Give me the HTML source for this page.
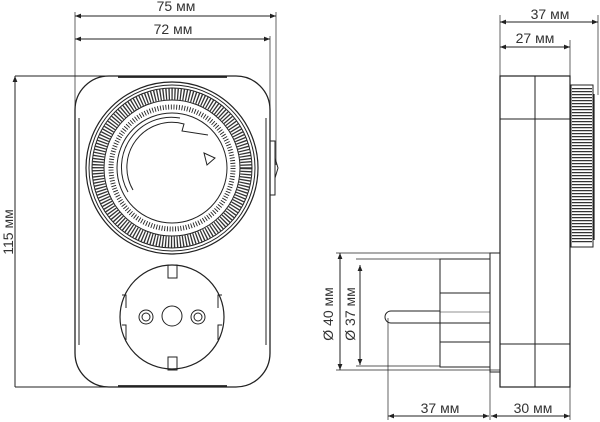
<!DOCTYPE html>
<html><head><meta charset="utf-8"><style>
html,body{margin:0;padding:0;background:#fff;width:600px;height:422px;overflow:hidden}
svg{display:block}
text{font-family:"Liberation Sans",sans-serif;font-size:14px;fill:#333}
</style></head><body>
<svg width="600" height="422" viewBox="0 0 600 422" xmlns="http://www.w3.org/2000/svg">
<defs>
<marker id="a" viewBox="0 0 10 10" refX="10" refY="5" markerWidth="8" markerHeight="6" orient="auto-start-reverse"><path d="M0,1 L10,5 L0,9 z" fill="#222"/></marker>
</defs>
<g stroke="#222" fill="none" stroke-width="1">
<!-- top dims left -->
<line x1="75" y1="16" x2="276" y2="16" marker-start="url(#a)" marker-end="url(#a)"/>
<line x1="75" y1="39" x2="270" y2="39" marker-start="url(#a)" marker-end="url(#a)"/>
<line x1="75" y1="12" x2="75" y2="115" stroke-width="0.7"/>
<line x1="276" y1="12" x2="276" y2="165" stroke-width="0.7"/>
<line x1="270" y1="36" x2="270" y2="118" stroke-width="0.7"/>
<!-- height dim -->
<line x1="15" y1="76" x2="15" y2="387" marker-start="url(#a)"/>
<line x1="15" y1="76" x2="118" y2="76"/>
<line x1="15" y1="387" x2="118" y2="387"/>
<!-- body -->
<rect x="75" y="76" width="195" height="311" rx="34" stroke-width="1.3"/>
<line x1="79" y1="118" x2="79" y2="345"/>
<line x1="266" y1="118" x2="266" y2="345"/>
<line x1="118" y1="77" x2="227" y2="77" stroke-width="1.8"/>
<line x1="118" y1="386" x2="227" y2="386" stroke-width="1.8"/>
<!-- side knob -->
<rect x="270" y="141" width="5" height="54" stroke-width="1"/>
<path d="M275,158 L278,168 L275,178"/>
<!-- dial -->
<circle cx="172" cy="168" r="86" stroke-width="1.2"/>
<circle cx="172" cy="168" r="83"/>
<circle cx="172" cy="168" r="74" stroke-width="11" stroke-dasharray="1.3 1.6" stroke="#333"/>
<circle cx="172" cy="168" r="80"/>
<circle cx="172" cy="168" r="68"/>
<circle cx="172" cy="168" r="61" stroke-width="5" stroke-dasharray="0.9 1.8"/>
<circle cx="172" cy="168" r="55"/>
<path d="M133,190 A45,45 0 0 1 184,124 L182,131 L208,135" stroke-width="1"/>
<path d="M128,192 A50,50 0 0 1 180,118"/>
<path d="M204,153 L215,158 L207,165 Z"/>
<!-- socket -->
<circle cx="172" cy="317" r="52" stroke-width="1.2"/>
<rect x="168" y="265" width="9" height="13"/>
<rect x="168" y="357" width="9" height="13"/>
<circle cx="172" cy="316" r="10"/>
<circle cx="146" cy="317" r="7"/><circle cx="146" cy="317" r="4"/>
<circle cx="198" cy="317" r="7"/><circle cx="198" cy="317" r="4"/>
<path d="M122,295 L126,295 L126,308 M122,325 L126,325 L126,340 M222,295 L218,295 L218,308 M222,325 L218,325 L218,340"/>

<!-- right view -->
<line x1="500" y1="22" x2="598" y2="22" marker-start="url(#a)" marker-end="url(#a)"/>
<line x1="500" y1="47" x2="570" y2="47" marker-start="url(#a)" marker-end="url(#a)"/>
<line x1="500" y1="15" x2="500" y2="76" stroke-width="0.7"/>
<line x1="570" y1="40" x2="570" y2="76" stroke-width="0.7"/>
<line x1="598" y1="15" x2="598" y2="95" stroke-width="0.7"/>
<rect x="500" y="76" width="70" height="311" stroke-width="1.2"/>
<line x1="535" y1="76" x2="535" y2="387"/>
<line x1="500" y1="119" x2="570" y2="119"/>
<line x1="500" y1="344" x2="570" y2="344"/>
<rect x="571" y="85" width="22" height="162" stroke-width="1"/>
<line x1="582" y1="88" x2="582" y2="244" stroke-width="20" stroke-dasharray="1.2 1.8" stroke="#333"/>
<line x1="594" y1="94" x2="594" y2="240" stroke-width="1.2"/>
<!-- plug -->
<rect x="440" y="259" width="50" height="108"/>
<rect x="490" y="253" width="10" height="119"/>
<line x1="440" y1="293" x2="490" y2="293"/>
<line x1="440" y1="342" x2="490" y2="342"/>
<line x1="440" y1="312" x2="490" y2="312" stroke-width="0.6"/>
<line x1="440" y1="323" x2="490" y2="323"/>
<path d="M440,311 L391,311 A5,5 0 0 0 391,323 L440,323"/>
<!-- dia dims -->
<line x1="340" y1="253" x2="340" y2="370" marker-start="url(#a)" marker-end="url(#a)"/>
<line x1="360" y1="265" x2="360" y2="365" marker-start="url(#a)" marker-end="url(#a)"/>
<line x1="336" y1="253" x2="500" y2="253" stroke-width="0.7"/>
<line x1="336" y1="370" x2="500" y2="370" stroke-width="0.7"/>
<line x1="356" y1="259" x2="440" y2="259" stroke-width="0.7"/>
<line x1="356" y1="366" x2="440" y2="366" stroke-width="0.7"/>
<!-- bottom dims -->
<line x1="388" y1="318" x2="388" y2="420" stroke-width="0.7"/>
<line x1="570" y1="387" x2="570" y2="420" stroke-width="0.7"/>
<line x1="490" y1="372" x2="490" y2="420" stroke-width="0.7"/>
<line x1="388" y1="416" x2="489" y2="416" marker-start="url(#a)" marker-end="url(#a)"/>
<line x1="491" y1="416" x2="570" y2="416" marker-start="url(#a)" marker-end="url(#a)"/>
</g>
<text x="176" y="11" text-anchor="middle">75 мм</text>
<text x="173" y="34" text-anchor="middle">72 мм</text>
<text x="13" y="232" text-anchor="middle" transform="rotate(-90 13 232)">115 мм</text>
<text x="550" y="19" text-anchor="middle">37 мм</text>
<text x="535" y="43" text-anchor="middle">27 мм</text>
<text x="333" y="314" text-anchor="middle" transform="rotate(-90 333 314)">Ø 40 мм</text>
<text x="355" y="314" text-anchor="middle" transform="rotate(-90 355 314)">Ø 37 мм</text>
<text x="440" y="413" text-anchor="middle">37 мм</text>
<text x="533" y="413" text-anchor="middle">30 мм</text>
</svg>
</body></html>
